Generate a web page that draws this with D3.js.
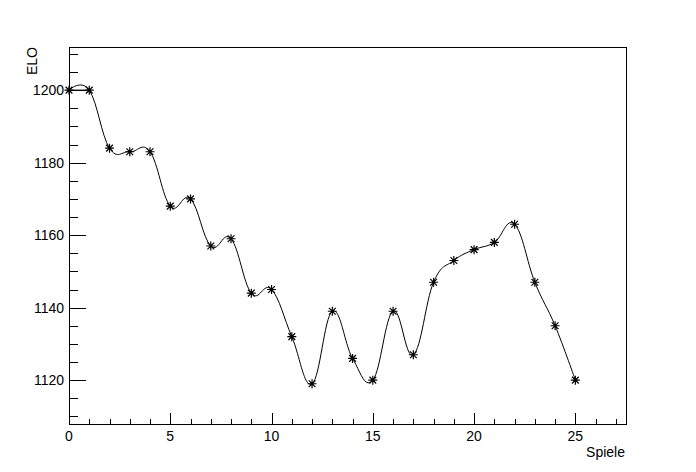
<!DOCTYPE html>
<html><head><meta charset="utf-8">
<script src="https://cdn.jsdelivr.net/npm/d3@7"></script>
<style>body{margin:0;background:#fff}svg{display:block}text{font-family:"Liberation Sans",Arial,sans-serif;fill:#000}</style>
</head><body><svg id="c" width="696" height="472"></svg>
<script>
const games = d3.range(0, 26);
const elo = [1200,1200,1184,1183,1183,1168,1170,1157,1159,1144,1145,1132,1119,1139,1126,1120,1139,1127,1147,1153,1156,1158,1163,1147,1135,1120];
const xTicks = [0,5,10,15,20,25];
const yTicks = [1120,1140,1160,1180,1200];
const xTitle = "Spiele", yTitle = "ELO";

const W=696,H=472, L=69, R=626, T=47, B=424;
const svg = d3.select("#c");
svg.append("rect").attr("width",W).attr("height",H).attr("fill","#fff");
const x = d3.scaleLinear().domain([0,27.5]).range([L,R]);
const y = d3.scaleLinear().domain([1107.9,1211.9]).range([B,T]);

// frame
svg.append("rect").attr("x",L+0.5).attr("y",T+0.5).attr("width",R-L).attr("height",B-T)
  .attr("fill","none").attr("stroke","#000").attr("stroke-width",1).attr("shape-rendering","crispEdges");

// x axis
const gx = svg.append("g").attr("shape-rendering","crispEdges");
d3.range(0,28).forEach(v=>{
  const major = v%5===0;
  gx.append("line").attr("x1",Math.round(x(v))+0.5).attr("x2",Math.round(x(v))+0.5)
    .attr("y1",B).attr("y2",B-(major?11:5.5)).attr("stroke","#000");
});
xTicks.forEach(v=>{
  gx.append("text").attr("x",x(v)).attr("y",441).attr("text-anchor","middle")
    .attr("font-size",14).text(v);
});
// y axis
const gy = svg.append("g").attr("shape-rendering","crispEdges");
d3.range(1110,1212,5).forEach(v=>{
  const major = v%20===0;
  gy.append("line").attr("x1",L).attr("x2",L+(major?17:8.5))
    .attr("y1",Math.round(y(v))+0.5).attr("y2",Math.round(y(v))+0.5).attr("stroke","#000");
});
yTicks.forEach(v=>{
  gy.append("text").attr("x",64).attr("y",y(v)+5).attr("text-anchor","end")
    .attr("font-size",14).text(v);
});
svg.append("text").attr("x",625).attr("y",457).attr("text-anchor","end").attr("font-size",14).text(xTitle);
svg.append("text").attr("transform","translate(37,47) rotate(-90)").attr("text-anchor","end").attr("font-size",14).text(yTitle);

const pts = games.map((g,i)=>[g,elo[i]]);
// straight first segment
svg.append("path").attr("d",d3.line().x(d=>x(d[0])).y(d=>y(d[1]))(pts.slice(0,2)))
  .attr("fill","none").attr("stroke","#000").attr("stroke-width",1);
svg.append("path").attr("d",d3.line().x(d=>x(d[0])).y(d=>y(d[1])).curve(d3.curveCardinal.tension(-0.2))(pts))
  .attr("fill","none").attr("stroke","#000").attr("stroke-width",1);

// star markers
const s=4.5;
const mk = svg.append("g").attr("stroke","#000").attr("stroke-width",1.2);
pts.forEach(d=>{
  const cx=x(d[0]), cy=y(d[1]);
  mk.append("path").attr("d",`M${cx-s},${cy}H${cx+s}M${cx},${cy-s}V${cy+s}M${cx-s*0.75},${cy-s*0.75}L${cx+s*0.75},${cy+s*0.75}M${cx-s*0.75},${cy+s*0.75}L${cx+s*0.75},${cy-s*0.75}`);
});
</script></body></html>
